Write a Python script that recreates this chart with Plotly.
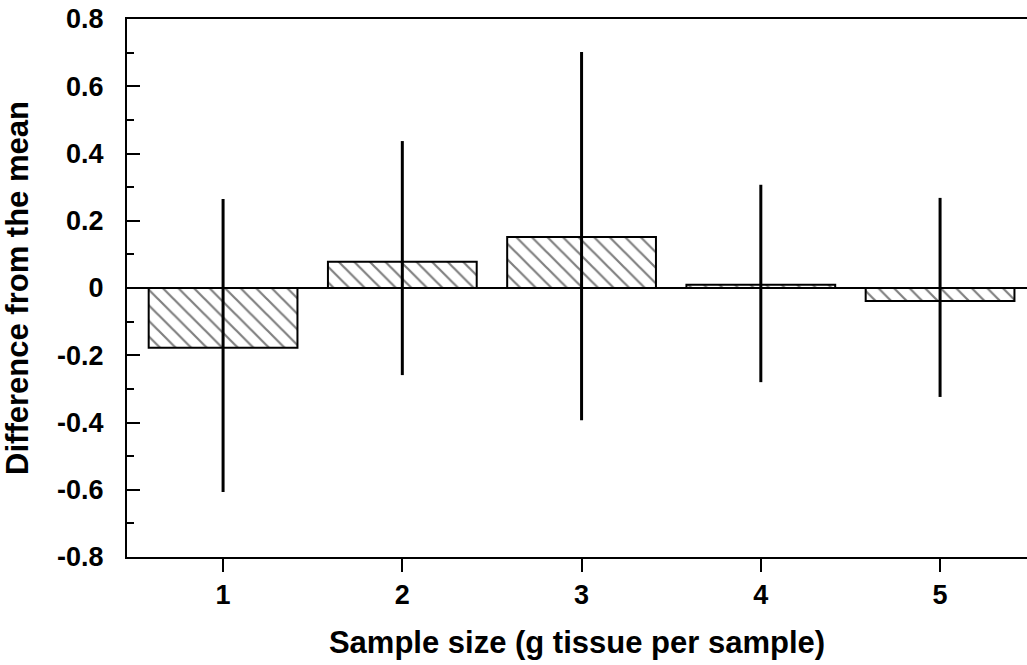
import plotly.graph_objects as go

categories = [1, 2, 3, 4, 5]
means = [-0.178, 0.078, 0.152, 0.010, -0.039]
upper = [0.265, 0.437, 0.702, 0.307, 0.268]
lower = [-0.607, -0.259, -0.393, -0.280, -0.324]
y_ticks = [-0.8, -0.6, -0.4, -0.2, 0, 0.2, 0.4, 0.6, 0.8]
y_tick_text = ["-0.8", "-0.6", "-0.4", "-0.2", "0", "0.2", "0.4", "0.6", "0.8"]

err_plus = [u - m for u, m in zip(upper, means)]
err_minus = [m - l for m, l in zip(means, lower)]

FONT = "Liberation Sans, Arial, sans-serif"

fig = go.Figure()
fig.add_trace(go.Bar(
    x=categories,
    y=means,
    width=0.83,
    marker=dict(
        color="white",
        line=dict(color="black", width=2),
        pattern=dict(shape="\\", size=11, solidity=0.2, fgcolor="black", bgcolor="white"),
    ),
    error_y=dict(
        type="data",
        symmetric=False,
        array=err_plus,
        arrayminus=err_minus,
        width=0,
        thickness=3,
        color="black",
    ),
    showlegend=False,
))

fig.update_layout(
    width=1027,
    height=665,
    margin=dict(l=127, r=0, t=19, b=108),
    paper_bgcolor="white",
    plot_bgcolor="white",
    font=dict(family=FONT, color="black", size=27, weight="bold"),
)

fig.update_xaxes(
    range=[0.464, 5.485],
    tickvals=categories,
    ticktext=[str(c) for c in categories],
    ticks="outside",
    ticklen=13,
    tickwidth=1.5,
    tickcolor="black",
    showline=True,
    linecolor="black",
    linewidth=2,
    mirror=True,
    showgrid=False,
    zeroline=False,
    ticklabelstandoff=0,
    tickfont=dict(family=FONT, size=27, weight="bold"),
    title=dict(text="Sample size (g tissue per sample)",
               font=dict(family=FONT, size=31, weight="bold"), standoff=22),
)

fig.update_yaxes(
    range=[-0.8, 0.8],
    tickvals=y_ticks,
    ticktext=y_tick_text,
    ticks="inside",
    ticklen=13,
    tickwidth=1.5,
    tickcolor="black",
    minor=dict(ticks="inside", ticklen=7, tickwidth=1.5, tickcolor="black", dtick=0.1, tick0=0),
    showline=True,
    linecolor="black",
    linewidth=2,
    showgrid=False,
    zeroline=True,
    zerolinecolor="black",
    zerolinewidth=1.5,
    ticklabelstandoff=16,
    tickfont=dict(family=FONT, size=27, weight="bold"),
    title=dict(text="Difference from the mean",
               font=dict(family=FONT, size=31, weight="bold"), standoff=20),
)

fig.write_html("out.html", config={"displayModeBar": False},
               post_script="document.body.style.margin='0';")
